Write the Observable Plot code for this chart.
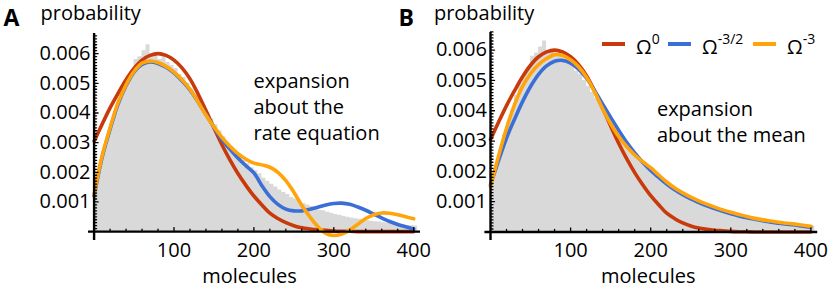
<!DOCTYPE html>
<html>
<head>
<meta charset="utf-8">
<script src="https://cdn.jsdelivr.net/npm/d3@7"></script>
<script src="https://cdn.jsdelivr.net/npm/@observablehq/plot@0.6"></script>
<style>
  html, body { margin: 0; padding: 0; background: #fff; }
  #chart { position: relative; width: 830px; height: 287px; font-family: "Open Sans", sans-serif; color: #000; overflow: hidden; }
  #chart svg { position: absolute; top: 0; }
  .lg-swatch { position: absolute; height: 4px; width: 23px; }
  .lg-text { position: absolute; font-size: 20px; line-height: 1; white-space: nowrap; }
  .lg-text sup { font-size: 14px; position: relative; top: -2px; }
</style>
</head>
<body>
<div id="chart"></div>
<script>
// ---------- data (probabilities in units of 0.001) ----------
const xGrid = [0,10,20,30,40,50,60,70,80,90,100,110,120,130,140,150,160,170,180,190,200,
               210,220,230,240,250,260,270,280,290,300,310,320,330,340,350,360,370,380,390,400];

// Ω^0 (same in both panels)
const omega0 = [3.05,3.62,4.17,4.66,5.12,5.50,5.78,5.94,6.00,5.94,5.78,5.52,5.15,4.65,4.08,3.50,2.93,2.42,1.96,1.56,1.20,
                0.90,0.62,0.44,0.30,0.20,0.13,0.09,0.06,0.04,0.02,0.01,0.01,0,0,0,0,0,0,0,0];
// Panel A: expansion about the rate equation
const omega32A = [1.20,2.50,3.45,4.30,4.92,5.38,5.64,5.72,5.67,5.54,5.35,5.09,4.78,4.38,3.95,3.52,3.10,2.78,2.48,2.22,1.98,
                  1.55,1.18,0.92,0.76,0.70,0.70,0.75,0.82,0.90,0.95,0.96,0.92,0.83,0.72,0.59,0.46,0.34,0.24,0.16,0.09];
const omega3A = [1.25,2.55,3.50,4.35,4.95,5.40,5.68,5.75,5.70,5.57,5.38,5.12,4.80,4.38,3.93,3.53,3.18,2.88,2.63,2.44,2.31,
                 2.25,2.17,2.00,1.72,1.33,0.88,0.50,0.17,-0.06,-0.13,-0.08,0.05,0.25,0.44,0.57,0.63,0.62,0.57,0.50,0.43];
// Panel B: expansion about the mean
const omega32B = [1.55,2.35,3.10,3.72,4.30,4.80,5.20,5.48,5.63,5.66,5.57,5.37,5.07,4.66,4.22,3.78,3.36,2.96,2.61,2.30,2.03,
                  1.80,1.58,1.39,1.23,1.09,0.97,0.86,0.77,0.68,0.60,0.53,0.47,0.42,0.37,0.32,0.29,0.26,0.23,0.19,0.16];
const omega3B = [1.50,2.50,3.42,4.20,4.80,5.22,5.52,5.72,5.85,5.82,5.68,5.45,5.10,4.62,4.06,3.57,3.15,2.82,2.54,2.32,2.12,
                 1.88,1.65,1.45,1.29,1.15,1.03,0.92,0.82,0.73,0.65,0.58,0.51,0.45,0.40,0.36,0.32,0.29,0.26,0.22,0.19];

// simulated histogram, bins of 5 molecules starting at 0
const histBinWidth = 5;
const histValues = [1.6,2.2,2.7,3.2,3.6,4.0,4.5,4.9,5.2,5.4,5.8,5.9,6.1,6.3,5.9,6.0,5.8,5.9,5.7,5.6,
                    5.5,5.3,5.2,5.0,4.8,4.6,4.4,4.2,4.0,3.8,3.6,3.4,3.2,3.0,2.85,2.7,2.55,2.4,2.3,2.15,
                    2.05,1.95,1.8,1.7,1.6,1.5,1.4,1.32,1.25,1.15,1.1,1.0,0.95,0.9,0.85,0.78,0.72,0.7,0.65,0.62,
                    0.58,0.55,0.52,0.48,0.46,0.43,0.42,0.39,0.37,0.35,0.33,0.32,0.3,0.28,0.27,0.25,0.24,0.22,0.21,0.2,0.19];

const seriesNames = ["Ω0", "Ω-3/2", "Ω-3"];
const seriesExponents = ["0", "-3/2", "-3"];
const seriesColors = ["#c8390b", "#3b6fd6", "#ffa40a"];

const xTicks = [100, 200, 300, 400];
const yTicks = [0.001, 0.002, 0.003, 0.004, 0.005, 0.006];
const xLabel = "molecules";
const yLabel = "probability";

// ---------- build tables ----------
const histRows = histValues.map((v, i) => ({x: i * histBinWidth, p: v / 1000}));
histRows.push({x: histValues.length * histBinWidth, p: histValues[histValues.length - 1] / 1000});

function curveRows(values, name) {
  return values.map((v, i) => ({x: xGrid[i], p: v / 1000, series: name}));
}

const xMinor = d3.range(20, 401, 20).filter(d => d % 100 !== 0);
const yMinor = d3.range(1, 67).map(d => d / 10000).filter(d => Math.round(d * 10000) % 10 !== 0);

const tickShape = {draw(context, l) { context.moveTo(0, 0); context.lineTo(0, -l); }};

function panel({left, width, marginLeft, marginRight, yDomain, curves, letter, note, pos}) {
  const fs = 20;
  const svg = Plot.plot({
    width, height: 287,
    marginLeft, marginRight, marginTop: pos.top, marginBottom: 47,
    x: {domain: [-7, 408.5]},
    y: {domain: yDomain},
    style: {background: "transparent", fontFamily: "'Open Sans', sans-serif", fontSize: fs + "px", color: "black", overflow: "visible"},
    marks: [
      Plot.areaY(histRows, {x: "x", y: "p", curve: "step-after", fill: "#d9d9d9"}),
      ...curves.map((c, i) => Plot.line(curveRows(c, seriesNames[i]), {x: "x", y: "p", stroke: seriesColors[i], strokeWidth: 3.6, curve: "catmull-rom"})),
      Plot.ruleY([0], {stroke: "black", strokeWidth: 2.4}),
      Plot.ruleX([0], {stroke: "black", strokeWidth: 2.4}),
      Plot.vector(xMinor, {x: d => d, y: 0, length: 2.5, rotate: 0, anchor: "start", shape: tickShape, stroke: "black", strokeWidth: 1.3}),
      Plot.vector(xTicks, {x: d => d, y: 0, length: 4, rotate: 0, anchor: "start", shape: tickShape, stroke: "black", strokeWidth: 1.3}),
      Plot.vector(yMinor, {x: 0, y: d => d, length: 2.5, rotate: 90, anchor: "start", shape: tickShape, stroke: "black", strokeWidth: 1.3}),
      Plot.vector(yTicks, {x: 0, y: d => d, length: 4, rotate: 90, anchor: "start", shape: tickShape, stroke: "black", strokeWidth: 1.3}),
      Plot.axisX({ticks: xTicks, tickSize: 0, tickPadding: 2, label: null, fontSize: fs, tickFormat: d3.format("d")}),
      Plot.axisY({ticks: yTicks, tickSize: 0, tickPadding: 0, dx: 2, label: null, fontSize: fs, tickFormat: d3.format(".3f")}),
      Plot.text([xLabel], {text: d => d, frameAnchor: "bottom", dx: pos.xlabDx, dy: 28, lineAnchor: "top", fontSize: fs}),
      Plot.text([yLabel], {text: d => d, frameAnchor: "top-left", dx: pos.ylabDx, dy: pos.ylabDy, lineAnchor: "top", textAnchor: "start", fontSize: fs}),
      Plot.text([letter], {text: d => d, frameAnchor: "top-left", dx: pos.letDx, dy: pos.letDy, lineAnchor: "top", textAnchor: "start", fontSize: 23, fontWeight: "bold"}),
      Plot.text([note], {text: d => d, frameAnchor: "top-left", dx: pos.noteDx, dy: pos.noteDy, lineAnchor: "top", textAnchor: "start", fontSize: fs, lineHeight: 1.3})
    ]
  });
  svg.style.left = left + "px";
  return svg;
}

const chart = document.getElementById("chart");
chart.appendChild(panel({
  left: 0, width: 430, marginLeft: 88, marginRight: 10,
  yDomain: [-0.0003, 0.00668],
  curves: [omega0, omega32A, omega3A],
  letter: "A",
  note: "expansion\nabout the\nrate equation",
  pos: {top: 33, xlabDx: -5, ylabDx: -48, ylabDy: -28, letDx: -85, letDy: -24, noteDx: 165, noteDy: 36}
}));
chart.appendChild(panel({
  left: 390, width: 440, marginLeft: 94.4, marginRight: 12.8,
  yDomain: [-0.00028, 0.00658],
  curves: [omega0, omega32B, omega3B],
  letter: "B",
  note: "expansion\nabout the mean",
  pos: {top: 32, xlabDx: -3, ylabDx: -51, ylabDy: -27, letDx: -86.4, letDy: -23, noteDx: 172, noteDy: 65.5}
}));

// legend (inside panel B)
const legendLefts = [602, 668, 753];
seriesNames.forEach((name, i) => {
  const sw = document.createElement("div");
  sw.className = "lg-swatch";
  sw.style.left = legendLefts[i] + "px";
  sw.style.top = "41.5px";
  sw.style.background = seriesColors[i];
  chart.appendChild(sw);
  const t = document.createElement("div");
  t.className = "lg-text";
  t.style.left = (legendLefts[i] + 34) + "px";
  t.style.top = "34px";
  t.innerHTML = "Ω<sup>" + seriesExponents[i] + "</sup>";
  chart.appendChild(t);
});
</script>
</body>
</html>
